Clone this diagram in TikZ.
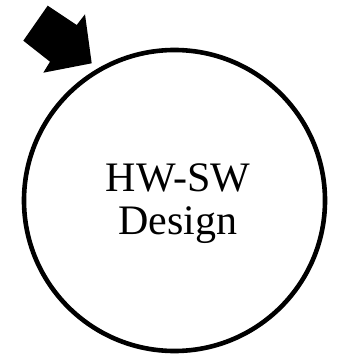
\documentclass[tikz,border=0pt]{standalone}
\usepackage{fontspec}
\setmainfont{Liberation Serif}
\begin{document}
\begin{tikzpicture}[x=1pt,y=-1pt,
  ring/.style={draw=black,line width=4.6pt,circle,minimum size=301pt,inner sep=0pt},
  label/.style={font=\fontsize{42}{43}\selectfont,align=center,inner sep=0pt},
  bigarrow/.style={fill=black,draw=none}]
\useasboundingbox (0,0) rectangle (337,355);
\node[ring] (c) at (174.5,200.5) {};
\node[label] (t) at (178,204) {HW-SW\\Design};
\fill[bigarrow] (47.7,5.7) -- (76.7,25) -- (85,14.3) -- (91.7,63.3) -- (43.3,72.7) -- (50,61.7) -- (23.3,40.7) -- cycle;
\end{tikzpicture}
\end{document}
